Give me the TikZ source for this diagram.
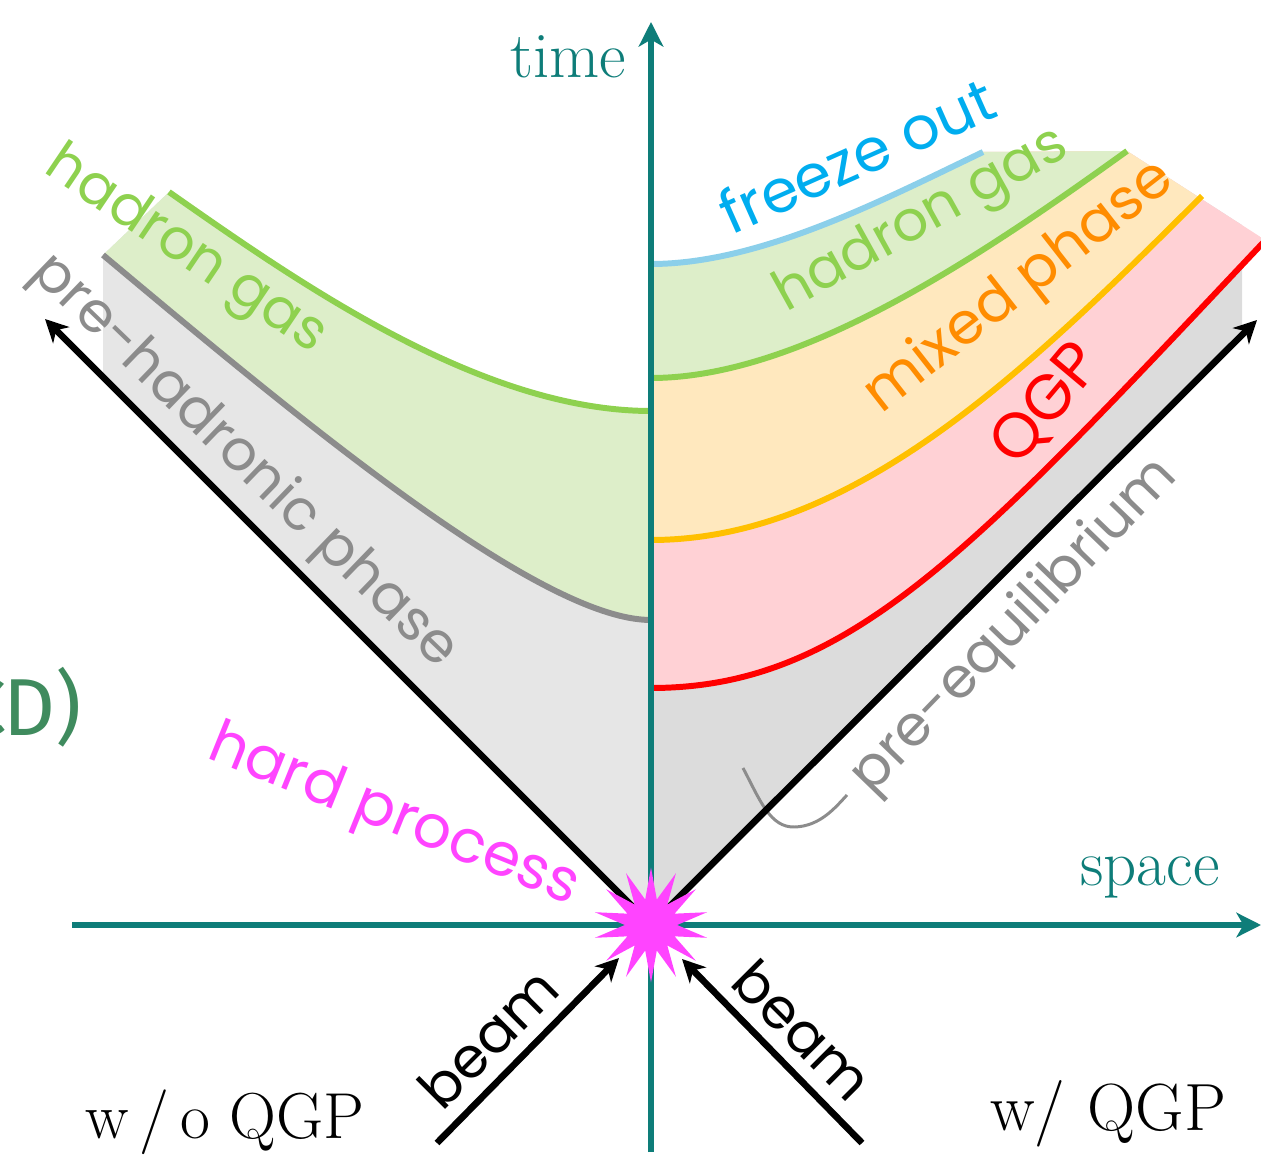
\documentclass[tikz,border=0pt]{standalone}
\usepackage{fontspec}
\newfontfamily\casualfont{Poppins}
\newfontfamily\labelsans{Fira Sans}
\usetikzlibrary{arrows.meta, shapes.geometric}
\definecolor{axisteal}{HTML}{0E7D79}
\definecolor{lgray}{HTML}{E6E6E6}
\definecolor{rgray}{HTML}{DCDCDC}
\definecolor{curvegray}{HTML}{8C8C8C}
\definecolor{hgreen}{HTML}{8ED14F}
\definecolor{hgreenfill}{HTML}{DDEEC9}
\definecolor{fblue}{HTML}{8BCFEA}
\definecolor{ftext}{HTML}{00ADEF}
\definecolor{myellow}{HTML}{FFC000}
\definecolor{mfill}{HTML}{FFE8BE}
\definecolor{mtext}{HTML}{FF8C00}
\definecolor{qred}{HTML}{FF0000}
\definecolor{qfill}{HTML}{FFD1D5}
\definecolor{hitpink}{HTML}{FF44FF}
\definecolor{qcdgreen}{HTML}{3F8B5E}

\begin{document}
\begin{tikzpicture}[x=0.02cm, y=-0.02cm,
    axisarrow/.style={axisteal, line width=3.4pt, -{Stealth[length=14pt, width=14pt, inset=4pt]}},
    cone/.style={black, line width=3.8pt, -{Stealth[length=13pt, width=13pt, inset=4pt]}},
    band/.style={line width=3.4pt},
    serif/.style={font=\fontsize{37}{40}\selectfont, anchor=base},
    tag/.style={font=\casualfont\fontsize{32}{34}\selectfont}]
    \useasboundingbox (0,0) rectangle (1261,1158);

    \begin{scope}
        \clip (651,925) -- (103,377) -- (103,255) -- (169,192) .. controls (299,283) and (481,411) .. (651,411) -- cycle;
        \fill[lgray] (0,0) rectangle (651,925);
        \fill[hgreenfill] (103,255) .. controls (300,420) and (540,620) .. (651,620) -- (651,100) -- (60,100) -- cycle;
    \end{scope}
    \begin{scope}
        \clip (651,925) -- (1290,286) -- (1290,256) -- (1127,151) -- (983,152) .. controls (883,200) and (760,264) .. (651,264) -- cycle;
        \fill[rgray] (651,925) -- (1242,334) -- (1242,150) -- (651,150) -- cycle;
        \fill[qfill] (651,688) .. controls (851,688) and (975,548) .. (1275,230) -- (1290,60) -- (640,60) -- cycle;
        \fill[mfill] (651,540) .. controls (851,540) and (1022,376) .. (1202,196) -- (1202,60) -- (640,60) -- cycle;
        \fill[hgreenfill] (651,378) .. controls (800,378) and (977,259) .. (1127,151) -- (1127,60) -- (640,60) -- cycle;
    \end{scope}

    \draw[band, curvegray] (103,255) .. controls (300,420) and (540,620) .. (651,620);
    \draw[band, hgreen] (169,192) .. controls (299,283) and (481,411) .. (651,411);
    \draw[band, fblue] (651,264) .. controls (760,264) and (883,200) .. (983,152);
    \draw[band, hgreen] (651,378) .. controls (800,378) and (977,259) .. (1127,151);
    \draw[band, myellow] (651,540) .. controls (851,540) and (1022,376) .. (1202,196);
    \draw[band, qred] (651,688) .. controls (851,688) and (975,548) .. (1275,230);
    \draw[line width=1.7pt, curvegray] (743,768) .. controls (760,800) and (770,828) .. (795,827) .. controls (820,826) and (835,808) .. (847,795);

    \coordinate (o) at (651,925);
    \coordinate (coneL) at (45,319);
    \coordinate (coneR) at (1257,320);
    \coordinate (tstart) at (651,1152);
    \coordinate (ttip) at (651,22);
    \coordinate (sstart) at (72,925);
    \coordinate (stip) at (1261,925);
    \coordinate (bl0) at (437,1143);
    \coordinate (bl1) at (619,958);
    \coordinate (br0) at (862,1143);
    \coordinate (br1) at (682,959);

    \draw[cone] (o) -- (coneL);
    \draw[cone] (o) -- (coneR);
    \draw[axisarrow] (sstart) -- (stip);
    \draw[axisarrow] (tstart) -- (ttip);
    \node[star, star points=14, star point ratio=2.2, minimum size=2.3cm, inner sep=0pt, fill=hitpink] (hit) at (o) {};
    \draw[cone] (bl0) -- (bl1);
    \draw[cone] (br0) -- (br1);

    \node[serif, axisteal] (tlabel) at (568,78) {time};
    \node[serif, axisteal] (slabel) at (1150,885) {space};
    \node[serif] (wo) at (225,1138) {w\,/\,o QGP};
    \node[serif, font=\fontsize{38}{40}\selectfont] (with) at (1108,1130) {w/\,\,QGP};
    \node[anchor=base east, inner sep=0pt, qcdgreen, font=\labelsans\fontsize{46}{48}\selectfont] (qcd) at (82,735) {C\kern-2pt D)};

    \node[tag, hitpink, rotate=-22, font=\casualfont\fontsize{34}{36}\selectfont] (hard) at (393,818) {hard process};
    \node[tag, hgreen, rotate=-34] (hgL) at (185,252) {hadron gas};
    \node[tag, curvegray, rotate=-44] (prehad) at (244,462) {pre-hadronic phase};
    \node[tag, ftext, rotate=24, font=\casualfont\fontsize{34}{36}\selectfont] (freeze) at (857,155) {freeze out};
    \node[tag, hgreen, rotate=29] (hgR) at (922,222) {hadron gas};
    \node[tag, mtext, rotate=38, font=\casualfont\fontsize{33}{35}\selectfont] (mixed) at (1020,288) {mixed phase};
    \node[tag, qred, rotate=50, font=\casualfont\fontsize{36}{38}\selectfont] (qgp) at (1047,405) {QGP};
    \node[tag, curvegray, rotate=46] (preeq) at (1015,627) {pre-equilibrium};
    \node[tag, rotate=45] (beamL) at (488,1038) {beam};
    \node[tag, rotate=-45] (beamR) at (803,1030) {beam};
\end{tikzpicture}
\end{document}
